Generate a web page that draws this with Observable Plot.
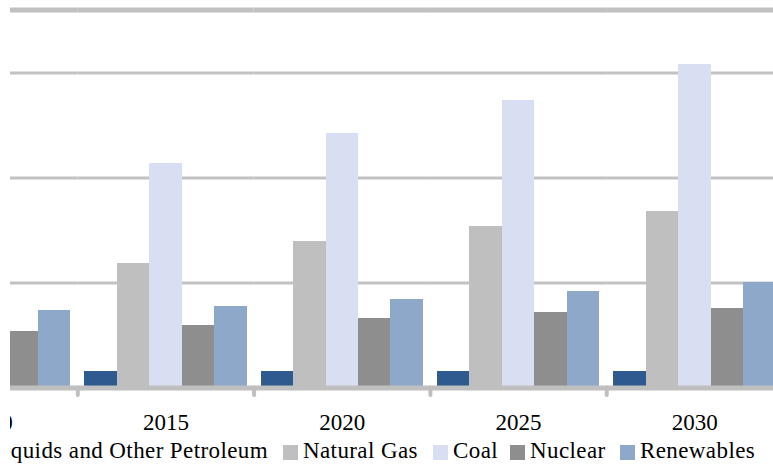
<!DOCTYPE html>
<html>
<head>
<meta charset="utf-8">
<script src="https://cdn.jsdelivr.net/npm/d3@7"></script>
<script src="https://cdn.jsdelivr.net/npm/@observablehq/plot@0.6"></script>
<style>
  html, body { margin: 0; padding: 0; background: #fff; }
  #page { position: relative; width: 773px; height: 465px; overflow: hidden; background: #fff; }
  #clip { position: absolute; left: 10px; top: 0; width: 763px; height: 465px; overflow: hidden; }
  #chart { position: absolute; left: -109.3px; top: 0; width: 881.5px; height: 440px; }
  #chart svg { max-width: none !important; width: 881.5px; height: 440px; }
  .sw { position: absolute; width: 15px; height: 15px; top: 445px; }
  .lt { position: absolute; top: 438.7px; line-height: 23px; font-size: 23px; white-space: nowrap; letter-spacing: 0.4px;
        font-family: "Liberation Serif", "DejaVu Serif", serif; color: #000; }
</style>
</head>
<body>
<div id="page"><div id="clip"><div id="chart"></div><div id="legend"></div></div></div>
<script>
// ---- data ----
const years = ["2010", "2015", "2020", "2025", "2030"];
const sources = ["Liquids and Other Petroleum", "Natural Gas", "Coal", "Nuclear", "Renewables"];
const liquids    = [3.1, 3.1, 3.1, 3.1, 3.1];
const naturalGas = [19.5, 23.7, 27.9, 30.8, 33.6];
const coal       = [37.0, 42.8, 48.5, 54.8, 61.6];
const nuclear    = [10.8, 11.9, 13.2, 14.4, 15.1];
const renewables = [14.8, 15.5, 16.9, 18.4, 20.1];
const gridTicks = [20, 40, 60];
const yMax = 72;
const colors = ["#2F5A8F", "#BFBFBF", "#D9DEF3", "#8E8E8E", "#8EA8C9"];

const series = [liquids, naturalGas, coal, nuclear, renewables];
const data = years.flatMap((year, i) =>
  sources.map((source, j) => ({year, source, value: series[j][i]})));

// ---- layout ----
const W = 881.5;
const facetStep = W / years.length;
const clipLeft = 10;
const legendLeft = [null, 283, 433, 510, 620]; // page x of each swatch
const firstLegendTextEnd = 268; // page x where the first (cut) legend label ends

const chart = Plot.plot({
  width: W,
  height: 440,
  marginLeft: 0,
  marginRight: 0,
  marginTop: 9.5,
  marginBottom: 52.5,
  fx: {domain: years, padding: 0, round: false, axis: null, label: null},
  x: {domain: sources, paddingInner: 0, paddingOuter: 0.2125, round: false, axis: null, label: null},
  y: {domain: [0, yMax], axis: null},
  color: {domain: sources, range: colors},
  style: {fontFamily: "Liberation Serif, DejaVu Serif, serif", fontSize: "23px", color: "#000", background: "transparent"},
  marks: [
    Plot.ruleY([yMax], {stroke: "#C0C0C0", strokeWidth: 5}),
    Plot.ruleY(gridTicks, {stroke: "#C2C2C2", strokeWidth: 3}),
    Plot.barY(data, {fx: "year", x: "source", y: "value", fill: "source", shapeRendering: "crispEdges"}),
    Plot.axisFx({anchor: "bottom", tickSize: 7.5, text: null, label: null, stroke: "#BFBFBF", strokeWidth: 4, strokeLinecap: "round", dx: -facetStep / 2}),
    Plot.ruleY([0], {stroke: "#BFBFBF", strokeWidth: 5}),
    Plot.axisFx({anchor: "bottom", tickSize: 0, tickPadding: 26, fontSize: 23, fill: "#000", label: null})
  ]
});
document.getElementById("chart").appendChild(chart);

// ---- legend ----
const legend = document.getElementById("legend");
sources.forEach((s, i) => {
  const sw = document.createElement("div");
  sw.className = "sw";
  sw.style.background = colors[i];
  legend.appendChild(sw);
  const t = document.createElement("span");
  t.className = "lt";
  t.textContent = s;
  legend.appendChild(t);
  if (legendLeft[i] == null) {
    const w = t.getBoundingClientRect().width;
    const textLeft = firstLegendTextEnd - w;
    t.style.left = (textLeft - clipLeft) + "px";
    sw.style.left = (textLeft - 20 - clipLeft) + "px";
  } else {
    sw.style.left = (legendLeft[i] - clipLeft) + "px";
    t.style.left = (legendLeft[i] - clipLeft + 20) + "px";
  }
});
</script>
</body>
</html>
